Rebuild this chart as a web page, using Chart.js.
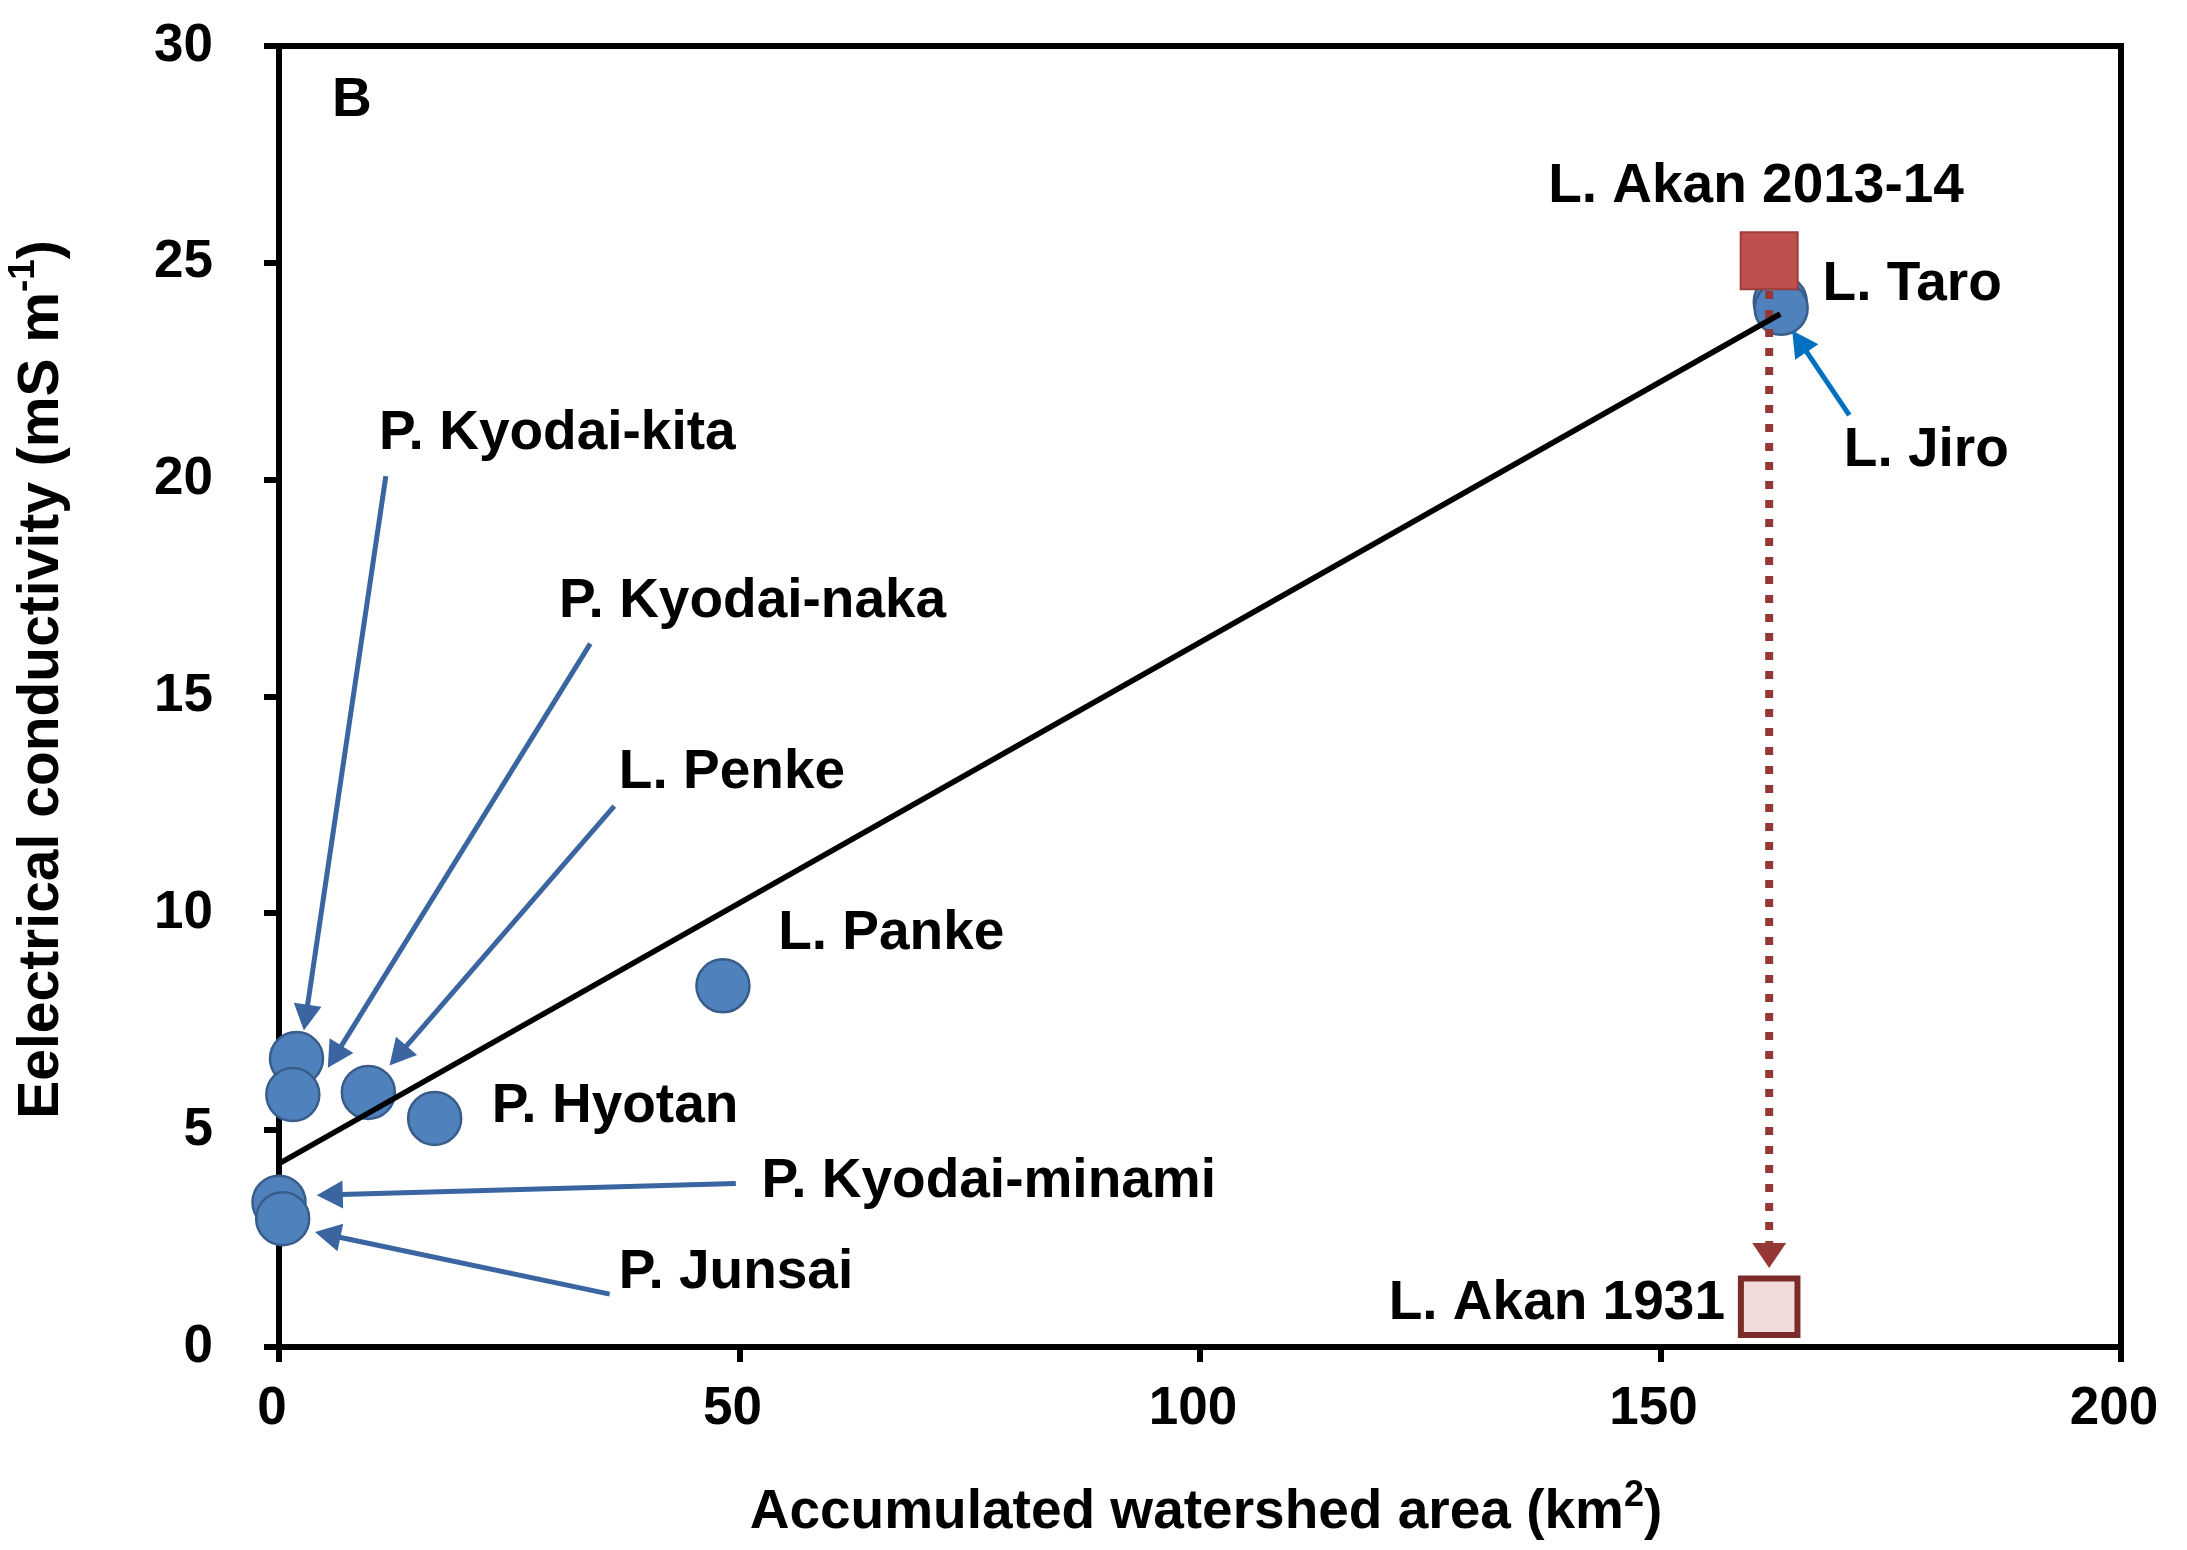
<!DOCTYPE html>
<html>
<head>
<meta charset="utf-8">
<script src="https://cdn.jsdelivr.net/npm/chart.js@4.4.1/dist/chart.umd.min.js"></script>
<style>
  html, body { margin: 0; padding: 0; background: #ffffff; }
  canvas { display: block; }
</style>
</head>
<body>
<canvas id="chart" width="2187" height="1550"></canvas>
<script>
// Lakes and ponds around L. Akan: watershed area against electrical conductivity
const siteNames     = ['P. Kyodai-kita', 'P. Kyodai-naka', 'L. Penke', 'P. Hyotan', 'L. Panke',
                       'P. Kyodai-minami', 'P. Junsai', 'L. Taro', 'L. Jiro'];
const watershedArea = [1.9, 1.5, 9.7, 16.9, 48.2, 0.0, 0.4, 163.0, 163.1];   // km2
const conductivity  = [6.65, 5.82, 5.87, 5.27, 8.33, 3.34, 2.96, 24.1, 23.95]; // mS m-1

// L. Akan itself, recent survey and the 1931 record
const akanArea   = 161.8;
const akanEC2013 = 25.05;
const akanEC1931 = 0.93;

// regression line end points
const fitArea = [0, 163];
const fitEC   = [4.23, 23.82];

// axis ticks
const xTicks = [0, 50, 100, 150, 200];
const yTicks = [0, 5, 10, 15, 20, 25, 30];

// dotted drop from the 2013-14 value down to the 1931 value
const dropFrom = 24.35;
const dropTip  = 1.82;

// text labels (data units; anchor at left edge unless align given)
const siteLabels = [
  { text: 'B',                x: 5.75,  y: 28.73 },
  { text: 'P. Kyodai-kita',   x: 10.86, y: 21.05 },
  { text: 'P. Kyodai-naka',   x: 30.4,  y: 17.18 },
  { text: 'L. Penke',         x: 36.9,  y: 13.25 },
  { text: 'L. Panke',         x: 54.2,  y: 9.52 },
  { text: 'P. Hyotan',        x: 23.1,  y: 5.54 },
  { text: 'P. Kyodai-minami', x: 52.4,  y: 3.82 },
  { text: 'P. Junsai',        x: 36.9,  y: 1.70 },
  { text: 'L. Akan 2013-14',  x: 137.8, y: 26.75 },
  { text: 'L. Taro',          x: 167.6, y: 24.5 },
  { text: 'L. Jiro',          x: 169.9, y: 20.66 },
  { text: 'L. Akan 1931',     x: 157.0, y: 0.99, align: 'right' }
];

// leader arrows: from label towards the marker tip
const leaderArrows = [
  { from: [11.6, 20.08], to: [2.7, 7.3] },
  { from: [33.8, 16.22], to: [5.3, 6.44] },
  { from: [36.4, 12.47], to: [12.0, 6.49] },
  { from: [49.6, 3.77],  to: [4.1, 3.50] },
  { from: [35.9, 1.22],  to: [3.9, 2.65] },
  { from: [170.5, 21.49], to: [164.3, 23.44], color: '#0070C0' }
];

const FONT = '"Liberation Sans", Arial, sans-serif';

function drawArrow(ctx, x0, y0, x1, y1, color, width, headLen, headHalf) {
  const ang = Math.atan2(y1 - y0, x1 - x0);
  const bx = x1 - headLen * Math.cos(ang);
  const by = y1 - headLen * Math.sin(ang);
  ctx.save();
  ctx.strokeStyle = color;
  ctx.lineWidth = width;
  ctx.lineCap = 'butt';
  ctx.beginPath();
  ctx.moveTo(x0, y0);
  ctx.lineTo(bx + Math.cos(ang) * 2, by + Math.sin(ang) * 2);
  ctx.stroke();
  ctx.fillStyle = color;
  ctx.beginPath();
  ctx.moveTo(x1, y1);
  ctx.lineTo(bx + headHalf * Math.sin(ang), by - headHalf * Math.cos(ang));
  ctx.lineTo(bx - headHalf * Math.sin(ang), by + headHalf * Math.cos(ang));
  ctx.closePath();
  ctx.fill();
  ctx.restore();
}

// text with a superscript part, centred on (cx, cy)
function richWidth(ctx, parts, size, supSize) {
  let w = 0;
  for (const p of parts) {
    ctx.font = 'bold ' + (p.sup ? supSize : size) + 'px ' + FONT;
    w += ctx.measureText(p.t).width;
  }
  return w;
}
function drawRich(ctx, parts, cx, cy, size, supSize, supRise) {
  const w = richWidth(ctx, parts, size, supSize);
  let x = cx - w / 2;
  ctx.textAlign = 'left';
  ctx.textBaseline = 'middle';
  for (const p of parts) {
    ctx.font = 'bold ' + (p.sup ? supSize : size) + 'px ' + FONT;
    ctx.fillText(p.t, x, p.sup ? cy - supRise : cy);
    x += ctx.measureText(p.t).width;
  }
}

const framePlugin = {
  id: 'frame',
  beforeDatasetsDraw(chart) {
    const { ctx, chartArea: a } = chart;
    ctx.save();
    ctx.strokeStyle = '#000';
    ctx.lineWidth = 6;
    ctx.strokeRect(a.left, a.top, a.right - a.left, a.bottom - a.top);
    ctx.restore();
  }
};

const annotationPlugin = {
  id: 'annotations',
  afterDatasetsDraw(chart) {
    const { ctx, scales: { x, y }, chartArea: a } = chart;
    // leader arrows
    for (const ar of leaderArrows) {
      drawArrow(ctx,
        x.getPixelForValue(ar.from[0]), y.getPixelForValue(ar.from[1]),
        x.getPixelForValue(ar.to[0]), y.getPixelForValue(ar.to[1]),
        ar.color || '#3A65A1', 5, 26, 14);
    }
    // head of the dotted drop line
    const px = x.getPixelForValue(akanArea);
    const tipY = y.getPixelForValue(dropTip);
    ctx.save();
    ctx.fillStyle = '#953735';
    ctx.beginPath();
    ctx.moveTo(px, tipY);
    ctx.lineTo(px - 17, tipY - 25);
    ctx.lineTo(px + 17, tipY - 25);
    ctx.closePath();
    ctx.fill();
    ctx.restore();
    // labels
    ctx.save();
    ctx.fillStyle = '#000';
    ctx.textBaseline = 'middle';
    for (const l of siteLabels) {
      ctx.font = 'bold 55px ' + FONT;
      ctx.textAlign = l.align || 'left';
      ctx.fillText(l.text, x.getPixelForValue(l.x), y.getPixelForValue(l.y));
    }
    // axis titles
    drawRich(ctx, [{ t: 'Accumulated watershed area (km' }, { t: '2', sup: true }, { t: ')' }],
      (a.left + a.right) / 2 + 6, a.bottom + 166, 55, 36, 17);
    ctx.translate(42, (a.top + a.bottom) / 2 - 17);
    ctx.rotate(-Math.PI / 2);
    drawRich(ctx, [{ t: 'Eelectrical conductivity (mS m' }, { t: '-1', sup: true }, { t: ')' }],
      0, 0, 57, 37, 18);
    ctx.restore();
  }
};

// keep the plot frame fixed: the layout padding alone sets the margins
function fixPadding(s) {
  s.paddingTop = 0; s.paddingBottom = 0; s.paddingLeft = 0; s.paddingRight = 0;
}

const lakePoints = watershedArea.map((v, i) => ({ x: v, y: conductivity[i] }));

new Chart(document.getElementById('chart'), {
  type: 'scatter',
  data: {
    datasets: [
      {
        label: 'Regression',
        type: 'line',
        data: fitArea.map((v, i) => ({ x: v, y: fitEC[i] })),
        borderColor: '#000',
        borderWidth: 5.5,
        pointRadius: 0,
        fill: false,
        order: 0,
        clip: false
      },
      {
        label: 'Change since 1931',
        type: 'line',
        data: [{ x: akanArea, y: dropFrom }, { x: akanArea, y: dropTip + 0.45 }],
        borderColor: '#953735',
        borderWidth: 8,
        borderDash: [8, 11],
        pointRadius: 0,
        fill: false,
        order: 1,
        clip: false
      },
      {
        label: 'L. Akan 2013-14',
        data: [{ x: akanArea, y: akanEC2013 }],
        pointStyle: 'rect',
        pointRadius: 40.3,
        backgroundColor: '#C0504D',
        borderColor: '#9B3D3A',
        borderWidth: 2,
        order: 2,
        clip: false
      },
      {
        label: 'L. Akan 1931',
        data: [{ x: akanArea, y: akanEC1931 }],
        pointStyle: 'rect',
        pointRadius: 40,
        backgroundColor: '#F2DCDB',
        borderColor: '#7B2C2A',
        borderWidth: 6,
        order: 2,
        clip: false
      },
      {
        label: 'Lakes and ponds',
        data: lakePoints,
        pointStyle: 'circle',
        pointRadius: 26.5,
        backgroundColor: '#4F81BD',
        borderColor: '#385D8A',
        borderWidth: 2.5,
        order: 3,
        clip: false
      }
    ]
  },
  options: {
    responsive: false,
    animation: false,
    events: [],
    layout: { padding: { top: 43, right: 66, left: 0, bottom: 0 } },
    plugins: { legend: { display: false }, tooltip: { enabled: false } },
    scales: {
      x: {
        type: 'linear',
        min: 0, max: 200,
        afterBuildTicks: s => { s.ticks = xTicks.map(v => ({ value: v })); },
        afterFit: s => { s.height = 203; fixPadding(s); },
        border: { display: false },
        grid: { drawOnChartArea: false, drawTicks: true, tickLength: 15, lineWidth: 6, tickWidth: 6, color: '#000', tickColor: '#000' },
        ticks: { color: '#000', padding: 16, labelOffset: -7, font: { family: FONT, size: 53, weight: 'bold' } }
      },
      y: {
        type: 'linear',
        min: 0, max: 30,
        afterBuildTicks: s => { s.ticks = yTicks.map(v => ({ value: v })); },
        afterFit: s => { s.width = 279; fixPadding(s); },
        border: { display: false },
        grid: { drawOnChartArea: false, drawTicks: true, tickLength: 15, lineWidth: 6, tickWidth: 6, color: '#000', tickColor: '#000' },
        ticks: { color: '#000', padding: 51, font: { family: FONT, size: 53, weight: 'bold' } }
      }
    }
  },
  plugins: [framePlugin, annotationPlugin]
});
</script>
</body>
</html>
